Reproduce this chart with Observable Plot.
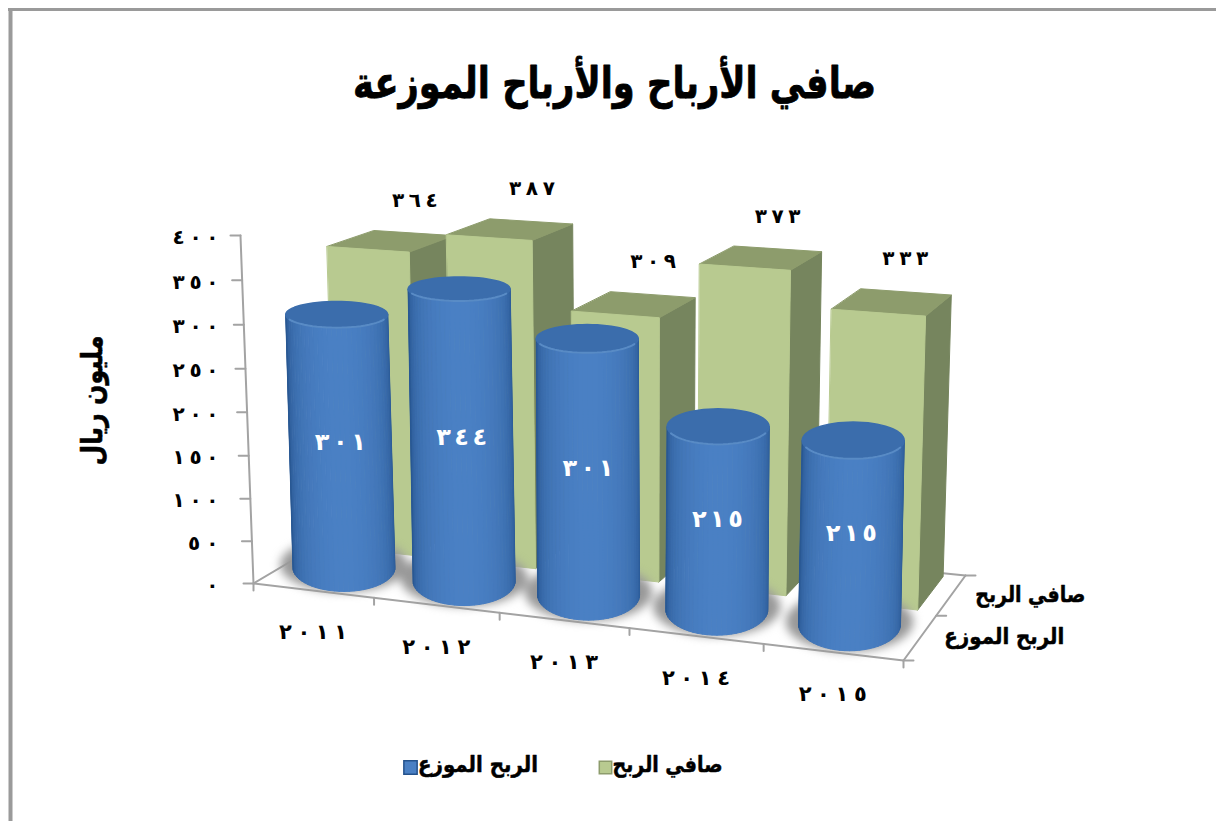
<!DOCTYPE html>
<html lang="ar">
<head>
<meta charset="utf-8">
<script src="https://cdn.jsdelivr.net/npm/d3@7"></script>
<script src="https://cdn.jsdelivr.net/npm/@observablehq/plot@0.6"></script>
<style>
html,body{margin:0;padding:0;background:#fff}
.shadow{filter:blur(5px)}
</style>
</head>
<body>
<div id="chart"></div>
<script>
const years = [2011, 2012, 2013, 2014, 2015];
const netProfit = [364, 387, 309, 373, 333];
const distributed = [301, 344, 301, 215, 215];
const yTicks = [0, 50, 100, 150, 200, 250, 300, 350, 400];
const chartTitle = "صافي الأرباح والأرباح الموزعة";
const yTitle = "مليون ريال";
const netName = "صافي الربح";
const distName = "الربح الموزع";

const FONT = "DejaVu Sans";
const ar = n => String(n).replace(/\d/g, d => "٠١٢٣٤٥٦٧٨٩"[d]);

// perspective camera of the 3-D plot box: u along years, d into depth, v value
const floor = {p0:[253,583], p1:[903,660], p2:[965,575], p3:[368,515]};
const vVanish = [641,10950], topLeftY = 235, vMax = 400;
const H = (() => {
  const [x0,y0]=floor.p0,[x1,y1]=floor.p1,[x2,y2]=floor.p2,[x3,y3]=floor.p3;
  const dx1=x1-x2,dx2=x3-x2,dx3=x0-x1+x2-x3,dy1=y1-y2,dy2=y3-y2,dy3=y0-y1+y2-y3;
  const den=dx1*dy2-dx2*dy1;
  const g=(dx3*dy2-dx2*dy3)/den,h=(dx1*dy3-dx3*dy1)/den;
  return {a:x1-x0+g*x1,b:x3-x0+h*x3,c:x0,e:y1-y0+g*y1,f:y3-y0+h*y3,i:y0,g,h,
    s:(topLeftY-y0)/(vVanish[1]-topLeftY)};
})();
function project(u0,d,v){
  const u=u0+0.012*Math.sin(Math.PI*u0);
  const w=v/vMax*(1-(d>0.4?0.05:0.09)*u0), q=H.g*u+H.h*d+1+H.s*w;
  return [(H.a*u+H.b*d+H.c+H.s*vVanish[0]*w)/q,(H.e*u+H.f*d+H.i+H.s*vVanish[1]*w)/q];
}
const uc = i => (i+0.5)/years.length;

// green boxes
const boxHalf = 0.069, d0 = 0.54, d1 = 0.96;
const faces = [];
const face = (id,fill,pts) => pts.forEach(p=>{const [x,y]=project(...p);faces.push({id,fill,x,y});});
netProfit.forEach((v,i)=>{
  const a=uc(i)-boxHalf,b=uc(i)+boxHalf;
  face(`r${i}`,"#76855E",[[b,d0,0],[b,d1,0],[b,d1,v],[b,d0,v]]);
  face(`t${i}`,"#8D9C6C",[[a,d0,v],[b,d0,v],[b,d1,v],[a,d1,v]]);
  face(`f${i}`,"#B8CA90",[[a,d0,0],[b,d0,0],[b,d0,v],[a,d0,v]]);
});

// blue cylinders: level ellipses round the projected axis
const cylU = i => uc(i)-0.008, dc = 0.3, rx = 51, N = 64;
const shade = d3.interpolateRgb("#24528c","#4A80C4");
const ellipse = (i,v,kx=1,ky=1,shiftY=0) => {
  const [cx,cy]=project(cylU(i),dc,v), ry=12.5+(cy-300)*0.042;
  return d3.range(N+1).map(j=>{
    const t=j/N*2*Math.PI;
    return [cx+kx*rx*Math.cos(t),cy+shiftY+ky*ry*Math.sin(t)];
  });
};
const shadows=[], bodies=[], tops=[], rims=[];
distributed.forEach((v,i)=>{
  ellipse(i,0,1.25,1.15,-3).forEach(([x,y])=>shadows.push({id:i,x,y}));
  const base=ellipse(i,0), top=ellipse(i,v);
  d3.range(N/2).forEach(j=>{
    const t=(j+0.5)/N*2*Math.PI;
    const fill=shade(Math.pow(Math.sin(t),0.7));
    [base[j],base[j+1],top[j+1],top[j]].forEach(([x,y])=>bodies.push({id:`${i}-${j}`,fill,x,y}));
  });
  top.forEach(([x,y])=>tops.push({id:i,x,y}));
  top.slice(4,N/2-3).forEach(([x,y])=>rims.push({id:i,x,y}));
});

const P = (u,d,v,extra={}) => { const [x,y]=project(u,d,v); return {x,y,...extra}; };

// axis lines and ticks
const axisLines = [
  [[0,0,vMax],[0,0,0]],[[0,0,0],[1,0,0]],[[1,0,0],[1,1,0]],[[0,0,0],[0,1,0]],[[0,1,0],[1,1,0]]
].flatMap((s,k)=>s.map(p=>P(...p,{id:k})));
const tickSegs = [];
const seg=(id,[x,y],dx,dy)=>{tickSegs.push({id,x,y},{id,x:x+dx,y:y+dy});};
yTicks.forEach(v=>seg(`y${v}`,project(0,0,v),-10,0));
d3.range(6).forEach(i=>seg(`x${i}`,project(i/5,0,0),0,7));
[0,0.5,1].forEach(d=>seg(`d${d}`,project(1,d,0),10,0));

const yTickText = yTicks.map(v=>{const [x,y]=project(0,0,v);return {x:218,y:y+2,t:ar(v)};});
const netText = netProfit.map((v,i)=>{const [x,y]=project(uc(i),1,v);return {x:x-3,y:y-31,t:ar(v)};});
const distText = distributed.map((v,i)=>{const [x,y]=project(cylU(i),dc,v/2);return {x,y,t:ar(v)};});
const yearText = years.map((v,i)=>{const [x,y]=project(uc(i),0,0);return {x:x,y:y+42,t:ar(v)};});
const seriesText = [[netName,0.75,79,110],[distName,0.25,84,120]].map(([t,d,dx,w])=>{const [x,y]=project(1,d,0);return {x:x+dx,y:y,t,w};});

const T = {fontFamily:FONT,fontWeight:"bold",fill:"#000"};
const plot = Plot.plot({
  width:1216, height:821, margin:0,
  x:{domain:[0,1216],range:[0,1216],axis:null},
  y:{domain:[0,821],range:[0,821],axis:null},
  color:{type:"identity"},
  marks:[
    Plot.ruleY([9],{stroke:"#9a9a9a",strokeWidth:3,x1:8,x2:1216}),
    Plot.ruleX([10],{stroke:"#9a9a9a",strokeWidth:4,y1:8,y2:821}),
    Plot.text([chartTitle],{x:614,y:83,text:d=>d,...T,fontSize:44,stroke:"#000",strokeWidth:0.8,className:"w523"}),
    Plot.text([yTitle],{x:92,y:400,text:d=>d,rotate:-90,...T,fontSize:29,stroke:"#000",strokeWidth:0.6,className:"w130"}),
    Plot.line(axisLines,{x:"x",y:"y",z:"id",stroke:"#a3a3a3",strokeWidth:2}),
    Plot.line(tickSegs,{x:"x",y:"y",z:"id",stroke:"#a3a3a3",strokeWidth:2}),
    Plot.line(faces,{x:"x",y:"y",z:"id",fill:"fill",curve:"linear-closed",stroke:"fill",strokeWidth:1}),
    Plot.line(shadows,{x:"x",y:"y",z:"id",fill:"#989898",curve:"linear-closed",stroke:"none",className:"shadow"}),
    Plot.line(bodies,{x:"x",y:"y",z:"id",fill:"fill",stroke:"fill",strokeWidth:1,curve:"linear-closed"}),
    Plot.line(tops,{x:"x",y:"y",z:"id",fill:"#3B6DAC",stroke:"#3B6DAC",curve:"linear-closed"}),
    Plot.line(rims,{x:"x",y:"y",z:"id",stroke:"#6092CC",strokeWidth:2,strokeOpacity:0.8}),
    Plot.text(yTickText,{x:"x",y:"y",text:"t",textAnchor:"end",...T,fontSize:20,className:"fit15"}),
    Plot.text(netText,{x:"x",y:"y",text:"t",...T,fontSize:20,className:"fit15"}),
    Plot.text(distText,{x:"x",y:"y",text:"t",...T,fill:"#fff",fontSize:24,className:"fit17"}),
    Plot.text(yearText,{x:"x",y:"y",text:"t",...T,fontSize:21,className:"fit17"}),
    Plot.text(seriesText.slice(0,1),{x:"x",y:"y",text:"t",...T,fontSize:22,stroke:"#000",strokeWidth:0.5,className:"w110"}),
    Plot.text(seriesText.slice(1),{x:"x",y:"y",text:"t",...T,fontSize:22,stroke:"#000",strokeWidth:0.5,className:"w120"}),
    Plot.dot([netName],{x:605,y:767,symbol:"square",r:7,fill:"#B8CA90",stroke:"#8D9C6C"}),
    Plot.dot([distName],{x:410,y:767,symbol:"square",r:7.5,fill:"#4A80C4",stroke:"#24528c"}),
    Plot.text([netName],{x:667,y:764,text:d=>d,...T,fontSize:22,stroke:"#000",strokeWidth:0.5,className:"w110"}),
    Plot.text([distName],{x:477.5,y:764,text:d=>d,...T,fontSize:22,stroke:"#000",strokeWidth:0.5,className:"w120"})
  ]
});
document.getElementById("chart").append(plot);
// open the digits out to the reference's wide spacing
[["fit15",15.3],["fit17",17]].forEach(([cls,per])=>{
  plot.querySelectorAll(`.${cls} text`).forEach(t=>{
    const n=t.textContent.length;
    if(n>1) t.setAttribute("textLength",n*per);
  });
});
// the reference's Arabic face is narrow and tall: fit the glyphs to its measured widths
[["w523",523],["w130",130],["w110",110],["w120",120]].forEach(([cls,w])=>{
  plot.querySelectorAll(`.${cls} text`).forEach(t=>{
    t.setAttribute("textLength",w);
    t.setAttribute("lengthAdjust","spacingAndGlyphs");
  });
});
</script>
</body>
</html>
